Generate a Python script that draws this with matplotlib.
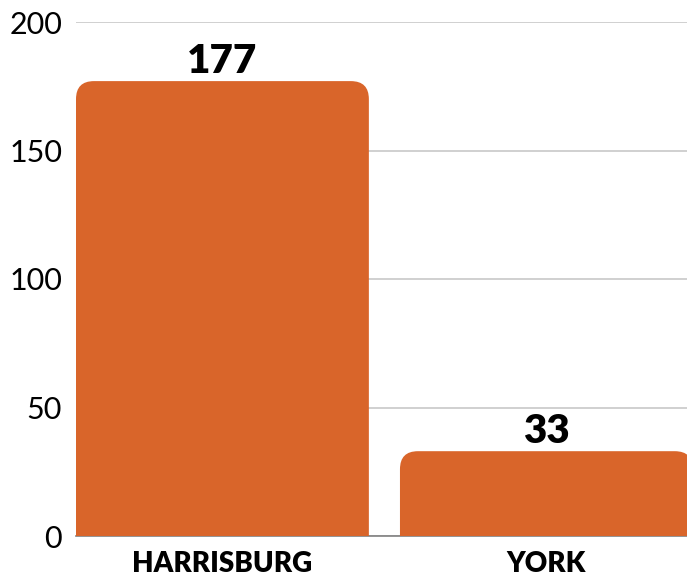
import matplotlib
matplotlib.use("Agg")
import matplotlib.pyplot as plt
from matplotlib.path import Path
from matplotlib.patches import PathPatch

# data
cities = ["HARRISBURG", "YORK"]
counts = [177, 33]
y_ticks = [0, 50, 100, 150, 200]

bar_color = "#d9652a"

fig = plt.figure(figsize=(6.87, 5.78), dpi=100)
ax = fig.add_axes([76 / 687, 1 - 536 / 578, 1 - 76 / 687, (536 - 22) / 578])

x = list(range(len(cities)))
width = 0.904
bars = ax.bar(x, counts, width=width, color=bar_color, zorder=2)

ax.set_xlim(-0.452, 1.434)
ax.set_ylim(0, 200)


def rounded_top(rect, rx, ry):
    # replace a plain bar with one whose top corners are rounded
    x0, y0 = rect.get_x(), rect.get_y()
    w, h = rect.get_width(), rect.get_height()
    x1, y1 = x0 + w, y0 + h
    verts = [
        (x0, y0), (x0, y1 - ry),
        (x0, y1), (x0 + rx, y1),
        (x1 - rx, y1),
        (x1, y1), (x1, y1 - ry),
        (x1, y0), (x0, y0),
    ]
    codes = [Path.MOVETO, Path.LINETO,
             Path.CURVE3, Path.CURVE3,
             Path.LINETO,
             Path.CURVE3, Path.CURVE3,
             Path.LINETO, Path.CLOSEPOLY]
    return PathPatch(Path(verts, codes), facecolor=rect.get_facecolor(),
                     edgecolor="none", zorder=2)


# corner radius in px, converted to data units on each axis
px_x = (1 - 76 / 687) * 687 / (1.434 + 0.452)
px_y = (536 - 22) / 200
for rect in bars:
    rect.set_visible(False)
    ax.add_patch(rounded_top(rect, 18 / px_x, 18 / px_y))

# value labels on top
for xi, v in zip(x, counts):
    ax.annotate(f"{v}", (xi, v), xytext=(0, 1), textcoords="offset points",
                ha="center", va="bottom", fontsize=29, fontweight="heavy",
                family="Lato", color="black")

ax.set_yticks(y_ticks)
ax.set_yticklabels([str(t) for t in y_ticks], fontsize=22, family="Lato",
                   fontweight="normal", color="black")
ax.set_xticks(x)
ax.set_xticklabels(cities, fontsize=20, fontweight="heavy", family="Lato")
ax.tick_params(axis="both", length=0)
ax.tick_params(axis="y", pad=10)
ax.tick_params(axis="x", pad=11)

ax.grid(axis="y", color="#c8c8c8", linewidth=1.2, zorder=0)
ax.set_axisbelow(True)
for side in ["left", "right", "top"]:
    ax.spines[side].set_visible(False)
ax.spines["bottom"].set_color("#808080")
ax.spines["bottom"].set_linewidth(1.2)
ax.spines["bottom"].set_zorder(1)

fig.savefig("out.png", dpi=100)
